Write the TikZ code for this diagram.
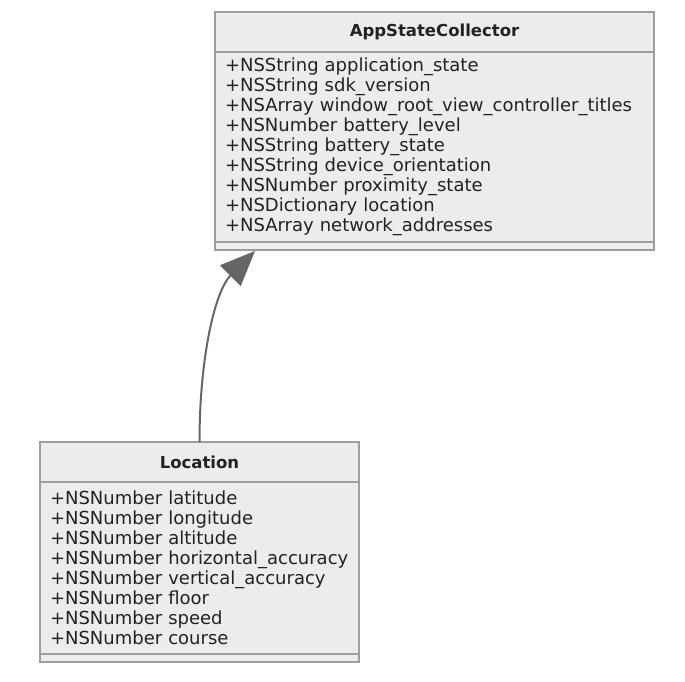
\documentclass[tikz,border=0pt]{standalone}
\usepackage{fontspec}
\setmainfont{DejaVu Sans}
\usetikzlibrary{positioning, arrows.meta}
\definecolor{boxfill}{HTML}{ECECEC}
\definecolor{boxline}{HTML}{9E9E9E}
\definecolor{arrowgray}{HTML}{666666}
\definecolor{txt}{HTML}{222222}

\begin{document}
\begin{tikzpicture}[x=1pt, y=-1pt, node distance=0pt,
    part/.style={draw=boxline, fill=boxfill, line width=1.6pt, rectangle,
        outer sep=0pt, inner sep=0pt, text=txt},
    title/.style={part, font=\fontsize{16.5}{20}\selectfont\bfseries, minimum height=40pt},
    attrs/.style={part, font=\fontsize{18}{20}\selectfont, align=left,
        inner xsep=10pt},
    meths/.style={part, minimum height=8pt},
    >={Triangle[length=35pt, width=29pt]}]

    \useasboundingbox (0,0) rectangle (685,682);

    % AppStateCollector
    \node[title, minimum width=439pt] (asc) at (434.5,32) {AppStateCollector};
    \node[attrs, text width=419pt, minimum height=190pt, below=of asc] (ascattr)
        {+NSString application\_state\\
         +NSString sdk\_version\\
         +NSArray window\_root\_view\_controller\_titles\\
         +NSNumber battery\_level\\
         +NSString battery\_state\\
         +NSString device\_orientation\\
         +NSNumber proximity\_state\\
         +NSDictionary location\\
         +NSArray network\_addresses};
    \node[meths, minimum width=439pt, below=of ascattr] (ascmeth) {};

    % Location
    \node[title, minimum width=319pt] (loc) at (199.5,462) {Location};
    \node[attrs, text width=299pt, minimum height=172pt, below=of loc] (locattr)
        {+NSNumber latitude\\
         +NSNumber longitude\\
         +NSNumber altitude\\
         +NSNumber horizontal\_accuracy\\
         +NSNumber vertical\_accuracy\\
         +NSNumber floor\\
         +NSNumber speed\\
         +NSNumber course};
    \node[meths, minimum width=319pt, below=of locattr] (locmeth) {};

    \coordinate (tip) at ([xshift=40pt, yshift=-1pt]ascmeth.south west);

    \draw[->, draw=arrowgray, line width=2pt]
        (loc.north) .. controls +(0,-85) and +(-40,40) .. (tip);
\end{tikzpicture}
\end{document}
